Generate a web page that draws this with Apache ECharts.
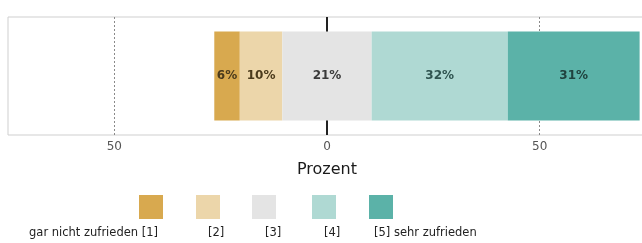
<!DOCTYPE html>
<html>
<head>
<meta charset="utf-8">
<script src="https://cdn.jsdelivr.net/npm/echarts@6/dist/echarts.min.js"></script>
<style>
  html, body { margin: 0; padding: 0; background: #fff; }
  #chart { width: 642px; height: 243px; }
</style>
</head>
<body>
<div id="chart"></div>
<script>
// Antwortkategorien und Anteile (Prozent)
const categories = ['gar nicht zufrieden [1]', '[2]', '[3]', '[4]', '[5] sehr zufrieden'];
const values = [6, 10, 21, 32, 31];
const colors = ['#d8a94f', '#ecd6aa', '#e4e4e4', '#afd9d3', '#5bb2a8'];
const labelColors = ['#4a3a1c', '#4a3a1c', '#3a3a3a', '#2f5450', '#1f423e'];
const xTicks = [-50, 0, 50];

// Balken wird um die Mitte der neutralen Kategorie zentriert
const offset = -(values[0] + values[1] + values[2] / 2);

var myChart = echarts.init(document.getElementById('chart'));

const series = [{
    name: 'base',
    type: 'bar',
    stack: 'all',
    stackStrategy: 'all',
    barWidth: 89,
    silent: true,
    z: 1,
    itemStyle: { color: 'transparent' },
    data: [offset],
    markLine: {
        silent: true,
        symbol: 'none',
        label: { show: false },
        z: 1,
        data: [
            { xAxis: xTicks[0], lineStyle: { color: '#8a8a8a', type: [2, 2], width: 1 } },
            { xAxis: xTicks[2], lineStyle: { color: '#8a8a8a', type: [2, 2], width: 1 } },
            { xAxis: xTicks[1], lineStyle: { color: '#222', type: 'solid', width: 2 } }
        ]
    }
}];
categories.forEach((c, i) => {
    series.push({
        name: c,
        type: 'bar',
        stack: 'all',
        stackStrategy: 'all',
        barWidth: 89,
        z: 3,
        itemStyle: { color: colors[i] },
        label: {
            show: true,
            position: 'inside',
            formatter: values[i] + '%',
            color: labelColors[i],
            fontSize: 12,
            fontWeight: 'bold',
            fontFamily: 'DejaVu Sans'
        },
        data: [values[i]]
    });
});

// Legende: je ein Quadrat, Beschriftung darunter
const legendX = [139, 196, 252, 312, 369];
const legends = categories.map((c, i) => ({
    data: [c],
    left: legendX[i],
    top: 195,
    icon: 'rect',
    itemWidth: 24,
    itemHeight: 24,
    padding: 0,
    formatter: () => '',
    selectedMode: false
}));

const labelPos = [
    { x: 158, align: 'right' },
    { x: 208, align: 'center' },
    { x: 265, align: 'center' },
    { x: 324, align: 'center' },
    { x: 374, align: 'left' }
];

let option = {
    animation: false,
    grid: {
        left: 8,
        width: 638,
        top: 17,
        bottom: 108,
        outerBoundsMode: 'none',
        show: true,
        borderColor: '#cfcfcf',
        borderWidth: 1
    },
    xAxis: {
        type: 'value',
        min: -75,
        max: 75,
        interval: 25,
        name: 'Prozent',
        nameLocation: 'middle',
        nameGap: 27,
        nameTextStyle: { fontSize: 16, color: '#1a1a1a', fontFamily: 'DejaVu Sans' },
        axisLine: { show: false },
        axisTick: { show: false },
        splitLine: { show: false },
        axisLabel: {
            margin: 6,
            fontSize: 12,
            color: '#555',
            fontFamily: 'DejaVu Sans',
            formatter: v => xTicks.indexOf(v) >= 0 ? String(Math.abs(v)) : ''
        }
    },
    yAxis: {
        type: 'category',
        data: [''],
        axisLine: { show: false },
        axisTick: { show: false },
        axisLabel: { show: false }
    },
    legend: legends,
    graphic: categories.map((c, i) => ({
        type: 'text',
        left: labelPos[i].align === 'left' ? labelPos[i].x : undefined,
        right: labelPos[i].align === 'right' ? 642 - labelPos[i].x : undefined,
        x: labelPos[i].align === 'center' ? labelPos[i].x : undefined,
        top: 227,
        style: {
            text: c,
            fontSize: 11.5,
            fill: '#222',
            fontFamily: 'DejaVu Sans',
            align: labelPos[i].align === 'center' ? 'center' : undefined
        }
    })),
    series: series
};
myChart.setOption(option);
</script>
</body>
</html>
